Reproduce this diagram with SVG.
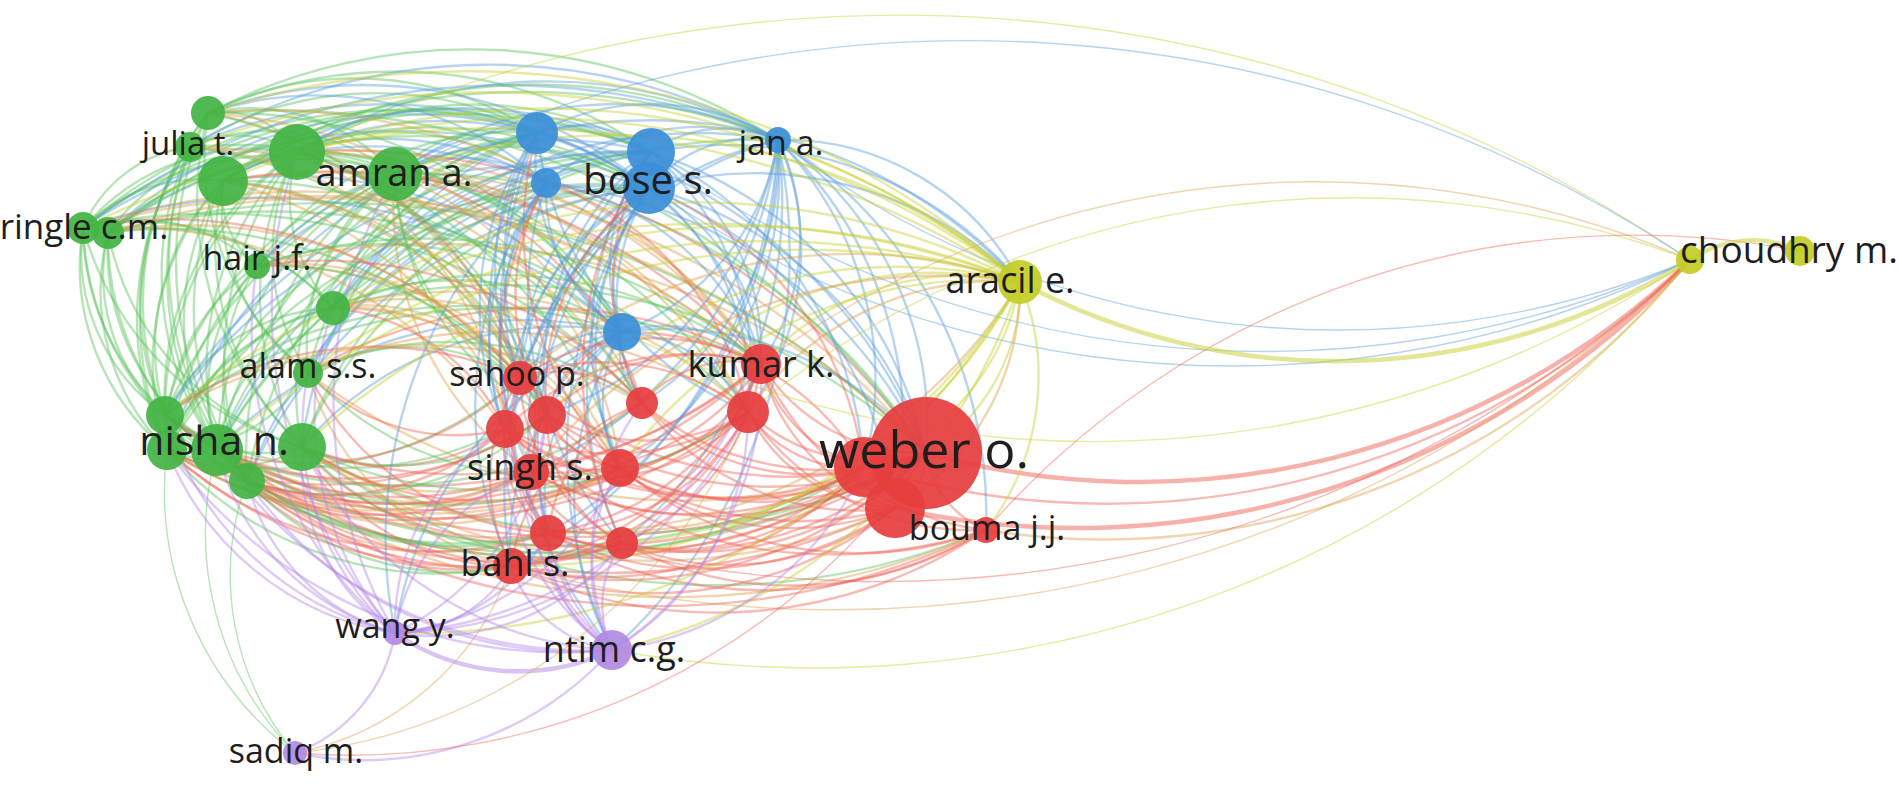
<svg xmlns="http://www.w3.org/2000/svg" width="1902" height="787" viewBox="0 0 1902 787">
<style>
#edges path{fill:none;stroke-width:2.4;stroke-opacity:.44;stroke-linecap:round}
#edges .g{stroke:#5cc25c}
#edges .b{stroke:#5a9edb}
#edges .r{stroke:#ef6355}
#edges .y{stroke:#c6d02c}
#edges .p{stroke:#b487e6}
#edges .o{stroke:#dca04e}
#edges .t{stroke-width:4.5;stroke-opacity:.5}
#edges .n{stroke-width:1.4}
.nd circle{fill-opacity:.93}
.G circle{fill:#44b444}
.B circle{fill:#3b8fd8}
.R circle{fill:#e63d3d}
.Y circle{fill:#c3cd26}
.P circle{fill:#b38ae2}
text{font-family:"Open Sans","Noto Sans","DejaVu Sans",sans-serif;fill:#1e1e1e;text-anchor:middle}
</style>
<rect width="1902" height="787" fill="#ffffff"/>
<g id="edges">
<path class="g" d="M208 113A305 305 0 0 0 165 415"/>
<path class="g" d="M208 113A340 340 0 0 0 167 450"/>
<path class="g" d="M208 113A337 337 0 0 0 217 450"/>
<path class="g" d="M208 113A370 370 0 0 0 247 481"/>
<path class="g" d="M208 113A347 347 0 0 0 302 447"/>
<path class="g" d="M208 113A279 279 0 0 0 308 373"/>
<path class="g" d="M190 147A268 268 0 0 0 165 415"/>
<path class="g" d="M190 147A304 304 0 0 0 167 450"/>
<path class="g" d="M190 147A304 304 0 0 0 217 450"/>
<path class="g" d="M190 147A339 339 0 0 0 247 481"/>
<path class="g" d="M83 228A134 134 0 0 1 190 147"/>
<path class="g" d="M223 181A237 237 0 0 0 165 415"/>
<path class="g" d="M223 181A272 272 0 0 0 167 450"/>
<path class="g" d="M223 181A269 269 0 0 0 217 450"/>
<path class="g" d="M223 181A277 277 0 0 0 302 447"/>
<path class="g" d="M223 181A301 301 0 0 0 247 481"/>
<path class="g" d="M223 181A208 208 0 0 0 308 373"/>
<path class="g" d="M223 181A92 92 0 0 0 257 266"/>
<path class="g" d="M297 152A294 294 0 0 0 165 415"/>
<path class="g" d="M297 152A325 325 0 0 0 167 450"/>
<path class="g" d="M297 152A308 308 0 0 0 217 450"/>
<path class="g" d="M297 152A295 295 0 0 0 302 447"/>
<path class="g" d="M297 152A333 333 0 0 0 247 481"/>
<path class="g" d="M297 152A221 221 0 0 0 308 373"/>
<path class="g" d="M297 152A160 160 0 0 0 333 308"/>
<path class="g" d="M395 174A333 333 0 0 0 165 415"/>
<path class="g" d="M395 174A362 362 0 0 0 167 450"/>
<path class="g" d="M395 174A318 318 0 0 0 217 450"/>
<path class="g" d="M395 174A285 285 0 0 0 302 447"/>
<path class="g" d="M395 174A340 340 0 0 0 247 481"/>
<path class="g" d="M395 174A218 218 0 0 0 308 373"/>
<path class="g" d="M83 228A197 197 0 0 0 165 415"/>
<path class="g" d="M83 228A257 257 0 0 0 217 450"/>
<path class="g" d="M83 228A297 297 0 0 0 247 481"/>
<path class="g" d="M83 228A318 318 0 0 0 302 447"/>
<path class="g" d="M83 228A237 237 0 0 0 167 450"/>
<path class="g" d="M108 233A189 189 0 0 0 165 415"/>
<path class="g" d="M108 233A225 225 0 0 0 167 450"/>
<path class="g" d="M108 233A240 240 0 0 0 217 450"/>
<path class="g" d="M108 233A284 284 0 0 0 302 447"/>
<path class="g" d="M108 233A286 286 0 0 0 247 481"/>
<path class="g" d="M257 266A205 205 0 0 0 167 450"/>
<path class="g" d="M257 266A187 187 0 0 0 217 450"/>
<path class="g" d="M257 266A215 215 0 0 0 247 481"/>
<path class="g" d="M333 308A234 234 0 0 0 167 450"/>
<path class="g" d="M333 308A183 183 0 0 0 217 450"/>
<path class="g" d="M167 450A161 161 0 0 0 308 373"/>
<path class="g" d="M83 228A317 317 0 0 1 395 174"/>
<path class="g" d="M83 228A227 227 0 0 1 297 152"/>
<path class="g" d="M83 228A165 165 0 0 1 223 181"/>
<path class="g" d="M108 233A293 293 0 0 1 395 174"/>
<path class="g" d="M108 233A198 198 0 0 1 297 152"/>
<path class="g" d="M190 147A206 206 0 0 1 395 174"/>
<path class="g" d="M208 113A192 192 0 0 1 395 174"/>
<path class="g" d="M223 181A172 172 0 0 1 395 174"/>
<path class="g" d="M83 228A262 262 0 0 1 333 308"/>
<path class="g" d="M108 233A237 237 0 0 1 333 308"/>
<path class="g" d="M83 228A178 178 0 0 1 257 266"/>
<path class="g" d="M165 415A141 141 0 0 0 302 447"/>
<path class="g" d="M167 450A135 135 0 0 0 302 447"/>
<path class="g" d="M165 415A199 199 0 0 1 333 308"/>
<path class="g" d="M167 450A224 224 0 0 1 333 308"/>
<path class="g" d="M208 113A90 90 0 0 1 297 152"/>
<path class="g" d="M190 147A110 110 0 0 1 297 152"/>
<path class="g" d="M208 113A330 330 0 0 1 537 133"/>
<path class="g" d="M208 113A445 445 0 0 1 651 152"/>
<path class="b" d="M208 113A447 447 0 0 1 649 188"/>
<path class="g" d="M190 147A347 347 0 0 1 537 133"/>
<path class="b" d="M190 147A461 461 0 0 1 649 188"/>
<path class="g" d="M223 181A317 317 0 0 1 537 133"/>
<path class="b" d="M223 181A430 430 0 0 1 651 152"/>
<path class="g" d="M223 181A426 426 0 0 1 649 188"/>
<path class="b" d="M297 152A241 241 0 0 1 537 133"/>
<path class="g" d="M297 152A354 354 0 0 1 651 152"/>
<path class="b" d="M297 152A354 354 0 0 1 649 188"/>
<path class="b" d="M297 152A481 481 0 0 1 778 140"/>
<path class="g" d="M395 174A148 148 0 0 1 537 133"/>
<path class="b" d="M395 174A257 257 0 0 1 651 152"/>
<path class="g" d="M395 174A255 255 0 0 1 649 188"/>
<path class="b" d="M395 174A384 384 0 0 1 778 140"/>
<path class="g" d="M83 228A467 467 0 0 1 537 133"/>
<path class="g" d="M83 228A572 572 0 0 1 651 152"/>
<path class="b" d="M83 228A568 568 0 0 1 649 188"/>
<path class="g" d="M108 233A548 548 0 0 1 651 152"/>
<path class="g" d="M208 113A570 570 0 0 1 778 140"/>
<path class="b" d="M190 147A588 588 0 0 1 778 140"/>
<path class="b" d="M165 415A535 535 0 0 1 649 188"/>
<path class="g" d="M217 450A431 431 0 0 1 537 133"/>
<path class="b" d="M217 450A516 516 0 0 1 651 152"/>
<path class="g" d="M302 447A425 425 0 0 1 649 188"/>
<path class="g" d="M167 450A557 557 0 0 1 651 152"/>
<path class="b" d="M257 266A400 400 0 0 1 649 188"/>
<path class="g" d="M333 308A264 264 0 0 1 537 133"/>
<path class="b" d="M308 373A412 412 0 0 1 651 152"/>
<path class="b" d="M247 481A497 497 0 0 1 649 188"/>
<path class="g" d="M257 266A371 371 0 0 1 622 332"/>
<path class="b" d="M217 450A422 422 0 0 1 622 332"/>
<path class="g" d="M395 174A284 284 0 0 1 622 332"/>
<path class="b" d="M223 181A323 323 0 0 1 546 183"/>
<path class="b" d="M108 233A440 440 0 0 1 546 183"/>
<path class="b" d="M108 233A441 441 0 0 1 537 133"/>
<path class="g" d="M108 233A543 543 0 0 1 649 188"/>
<path class="g" d="M165 415A475 475 0 0 1 537 133"/>
<path class="b" d="M165 415A553 553 0 0 1 651 152"/>
<path class="b" d="M167 450A497 497 0 0 1 537 133"/>
<path class="g" d="M167 450A551 551 0 0 1 649 188"/>
<path class="g" d="M217 450A506 506 0 0 1 649 188"/>
<path class="b" d="M302 447A386 386 0 0 1 537 133"/>
<path class="g" d="M302 447A463 463 0 0 1 651 152"/>
<path class="g" d="M247 481A458 458 0 0 1 537 133"/>
<path class="b" d="M247 481A519 519 0 0 1 651 152"/>
<path class="g" d="M257 266A312 312 0 0 1 537 133"/>
<path class="b" d="M257 266A406 406 0 0 1 651 152"/>
<path class="b" d="M333 308A355 355 0 0 1 651 152"/>
<path class="g" d="M333 308A343 343 0 0 1 649 188"/>
<path class="g" d="M308 373A336 336 0 0 1 537 133"/>
<path class="b" d="M308 373A385 385 0 0 1 649 188"/>
<path class="b" d="M83 228A700 700 0 0 1 778 140"/>
<path class="g" d="M108 233A688 688 0 0 1 778 140"/>
<path class="g" d="M223 181A556 556 0 0 1 778 140"/>
<path class="b" d="M333 308A468 468 0 0 1 778 140"/>
<path class="g" d="M217 450A628 628 0 0 1 778 140"/>
<path class="b" d="M208 113A345 345 0 0 1 546 183"/>
<path class="g" d="M297 152A251 251 0 0 1 546 183"/>
<path class="b" d="M395 174A151 151 0 0 1 546 183"/>
<path class="g" d="M217 450A420 420 0 0 1 546 183"/>
<path class="g" d="M208 113A468 468 0 0 1 622 332"/>
<path class="b" d="M223 181A433 433 0 0 1 622 332"/>
<path class="g" d="M297 152A372 372 0 0 1 622 332"/>
<path class="b" d="M83 228A548 548 0 0 1 622 332"/>
<path class="g" d="M165 415A473 473 0 0 1 622 332"/>
<path class="b" d="M302 447A341 341 0 0 1 622 332"/>
<path class="g" d="M333 308A290 290 0 0 1 622 332"/>
<path class="g" d="M395 174A239 239 0 0 0 520 378"/>
<path class="o" d="M395 174A412 412 0 0 1 761 364"/>
<path class="g" d="M395 174A600 600 0 0 1 926 453"/>
<path class="r" d="M297 152A710 710 0 0 1 926 453"/>
<path class="o" d="M223 181A760 760 0 0 1 926 453"/>
<path class="g" d="M208 113A793 793 0 0 1 926 453"/>
<path class="o" d="M83 228A855 855 0 0 1 926 453"/>
<path class="g" d="M108 233A834 834 0 0 1 926 453"/>
<path class="r" d="M165 415A762 762 0 0 0 926 453"/>
<path class="g" d="M167 450A759 759 0 0 0 926 453"/>
<path class="r" d="M217 450A709 709 0 0 0 926 453"/>
<path class="g" d="M302 447A624 624 0 0 0 926 453"/>
<path class="r" d="M247 481A681 681 0 0 0 926 453"/>
<path class="o" d="M308 373A625 625 0 0 0 926 453"/>
<path class="g" d="M333 308A622 622 0 0 1 926 453"/>
<path class="o" d="M257 266A691 691 0 0 1 926 453"/>
<path class="r" d="M217 450A555 555 0 0 0 761 364"/>
<path class="g" d="M165 415A599 599 0 0 1 761 364"/>
<path class="r" d="M167 450A582 582 0 0 0 748 412"/>
<path class="o" d="M217 450A532 532 0 0 0 748 412"/>
<path class="g" d="M302 447A449 449 0 0 0 748 412"/>
<path class="r" d="M247 481A506 506 0 0 0 748 412"/>
<path class="r" d="M308 373A453 453 0 0 1 761 364"/>
<path class="o" d="M333 308A428 428 0 0 1 748 412"/>
<path class="r" d="M217 450A332 332 0 0 0 547 415"/>
<path class="r" d="M302 447A204 204 0 0 0 505 429"/>
<path class="g" d="M165 415A340 340 0 0 0 505 429"/>
<path class="r" d="M167 450A453 453 0 0 0 620 468"/>
<path class="r" d="M217 450A315 315 0 0 0 531 472"/>
<path class="o" d="M247 481A305 305 0 0 0 548 533"/>
<path class="r" d="M302 447A241 241 0 0 0 511 566"/>
<path class="r" d="M217 450A416 416 0 0 0 622 543"/>
<path class="g" d="M167 450A361 361 0 0 0 511 566"/>
<path class="r" d="M247 481A380 380 0 0 0 622 543"/>
<path class="g" d="M308 373A212 212 0 0 1 520 378"/>
<path class="o" d="M333 308A318 318 0 0 1 642 403"/>
<path class="o" d="M333 308A237 237 0 0 1 547 415"/>
<path class="r" d="M395 174A337 337 0 0 1 642 403"/>
<path class="o" d="M395 174A422 422 0 0 1 748 412"/>
<path class="o" d="M297 152A520 520 0 0 1 761 364"/>
<path class="r" d="M223 181A582 582 0 0 1 761 364"/>
<path class="o" d="M208 113A606 606 0 0 1 761 364"/>
<path class="o" d="M83 228A690 690 0 0 1 761 364"/>
<path class="g" d="M108 233A658 658 0 0 1 748 412"/>
<path class="o" d="M257 266A403 403 0 0 1 620 468"/>
<path class="g" d="M165 415A397 397 0 0 0 548 533"/>
<path class="r" d="M167 450A392 392 0 0 0 548 533"/>
<path class="r" d="M217 450A676 676 0 0 0 895 508"/>
<path class="o" d="M302 447A562 562 0 0 0 864 467"/>
<path class="r" d="M247 481A741 741 0 0 0 986 530"/>
<path class="g" d="M302 447A689 689 0 0 0 986 530"/>
<path class="g" d="M190 147A446 446 0 0 1 547 415"/>
<path class="o" d="M223 181A424 424 0 0 1 531 472"/>
<path class="g" d="M297 152A452 452 0 0 1 620 468"/>
<path class="r" d="M83 228A462 462 0 0 1 520 378"/>
<path class="g" d="M108 233A475 475 0 0 1 547 415"/>
<path class="o" d="M208 113A409 409 0 0 1 520 378"/>
<path class="g" d="M208 113A454 454 0 0 1 547 415"/>
<path class="o" d="M208 113A522 522 0 0 1 642 403"/>
<path class="o" d="M190 147A398 398 0 0 1 520 378"/>
<path class="o" d="M190 147A536 536 0 0 1 642 403"/>
<path class="g" d="M190 147A618 618 0 0 1 748 412"/>
<path class="g" d="M223 181A355 355 0 0 1 520 378"/>
<path class="o" d="M223 181A398 398 0 0 1 547 415"/>
<path class="g" d="M223 181A478 478 0 0 1 642 403"/>
<path class="o" d="M223 181A490 490 0 0 1 620 468"/>
<path class="r" d="M297 152A319 319 0 0 1 520 378"/>
<path class="g" d="M297 152A365 365 0 0 1 547 415"/>
<path class="o" d="M297 152A510 510 0 0 1 748 412"/>
<path class="o" d="M297 152A346 346 0 0 1 505 429"/>
<path class="g" d="M395 174A281 281 0 0 0 547 415"/>
<path class="o" d="M395 174A365 365 0 0 1 620 468"/>
<path class="o" d="M395 174A328 328 0 0 0 531 472"/>
<path class="g" d="M83 228A580 580 0 0 1 642 403"/>
<path class="o" d="M83 228A469 469 0 0 1 505 429"/>
<path class="o" d="M108 233A666 666 0 0 1 761 364"/>
<path class="o" d="M108 233A433 433 0 0 1 520 378"/>
<path class="o" d="M257 266A284 284 0 0 1 520 378"/>
<path class="g" d="M257 266A517 517 0 0 1 761 364"/>
<path class="r" d="M257 266A427 427 0 0 1 642 403"/>
<path class="g" d="M257 266A323 323 0 0 1 547 415"/>
<path class="o" d="M333 308A200 200 0 0 1 520 378"/>
<path class="g" d="M333 308A430 430 0 0 1 761 364"/>
<path class="r" d="M333 308A213 213 0 0 1 505 429"/>
<path class="o" d="M333 308A335 335 0 0 1 620 468"/>
<path class="g" d="M308 373A336 336 0 0 1 642 403"/>
<path class="o" d="M308 373A441 441 0 0 1 748 412"/>
<path class="r" d="M308 373A205 205 0 0 0 505 429"/>
<path class="g" d="M308 373A326 326 0 0 0 620 468"/>
<path class="r" d="M308 373A288 288 0 0 0 548 533"/>
<path class="o" d="M308 373A280 280 0 0 0 511 566"/>
<path class="r" d="M165 415A356 356 0 0 1 520 378"/>
<path class="o" d="M165 415A478 478 0 0 1 642 403"/>
<path class="g" d="M165 415A459 459 0 0 0 620 468"/>
<path class="r" d="M165 415A371 371 0 0 0 531 472"/>
<path class="g" d="M167 450A361 361 0 0 0 520 378"/>
<path class="r" d="M167 450A385 385 0 0 0 547 415"/>
<path class="o" d="M167 450A365 365 0 0 0 531 472"/>
<path class="r" d="M167 450A464 464 0 0 0 622 543"/>
<path class="r" d="M217 450A311 311 0 0 0 520 378"/>
<path class="g" d="M217 450A429 429 0 0 0 642 403"/>
<path class="o" d="M217 450A403 403 0 0 0 620 468"/>
<path class="g" d="M217 450A342 342 0 0 0 548 533"/>
<path class="r" d="M217 450A316 316 0 0 0 511 566"/>
<path class="g" d="M217 450A647 647 0 0 0 864 467"/>
<path class="o" d="M217 450A773 773 0 0 0 986 530"/>
<path class="g" d="M302 447A250 250 0 0 0 547 415"/>
<path class="r" d="M302 447A319 319 0 0 0 620 468"/>
<path class="o" d="M302 447A230 230 0 0 0 531 472"/>
<path class="r" d="M302 447A260 260 0 0 0 548 533"/>
<path class="g" d="M302 447A332 332 0 0 0 622 543"/>
<path class="r" d="M302 447A467 467 0 0 0 761 364"/>
<path class="o" d="M302 447A592 592 0 0 0 895 508"/>
<path class="g" d="M247 481A309 309 0 0 0 547 415"/>
<path class="r" d="M247 481A263 263 0 0 0 505 429"/>
<path class="o" d="M247 481A373 373 0 0 0 620 468"/>
<path class="r" d="M247 481A284 284 0 0 0 531 472"/>
<path class="g" d="M247 481A280 280 0 0 0 511 566"/>
<path class="r" d="M247 481A532 532 0 0 0 761 364"/>
<path class="g" d="M247 481A617 617 0 0 0 864 467"/>
<path class="b" d="M537 133A115 115 0 0 1 651 152"/>
<path class="b" d="M537 133A241 241 0 0 1 778 140"/>
<path class="b" d="M651 152A128 128 0 0 1 778 140"/>
<path class="b" d="M649 188A137 137 0 0 1 778 140"/>
<path class="b" d="M546 183A240 240 0 0 1 778 140"/>
<path class="b" d="M537 133A216 216 0 0 0 622 332"/>
<path class="b" d="M546 183A169 169 0 0 0 622 332"/>
<path class="b" d="M651 152A180 180 0 0 0 622 332"/>
<path class="b" d="M649 188A145 145 0 0 0 622 332"/>
<path class="b" d="M778 140A247 247 0 0 1 622 332"/>
<path class="b" d="M778 140A225 225 0 0 1 761 364"/>
<path class="b" d="M778 140A274 274 0 0 1 748 412"/>
<path class="b" d="M778 140A346 346 0 0 1 926 453"/>
<path class="b" d="M778 140A289 289 0 0 1 642 403"/>
<path class="b" d="M778 140A356 356 0 0 1 620 468"/>
<path class="b" d="M520 378A351 351 0 0 1 778 140"/>
<path class="b" d="M505 429A385 385 0 0 1 778 140"/>
<path class="b" d="M778 140A455 455 0 0 1 548 533"/>
<path class="b" d="M778 140A265 265 0 0 1 1020 282"/>
<path class="b" d="M778 140A536 536 0 0 1 612 650"/>
<path class="b" d="M649 188A395 395 0 0 1 926 453"/>
<path class="b" d="M649 188A208 208 0 0 1 761 364"/>
<path class="b" d="M649 188A230 230 0 0 0 520 378"/>
<path class="b" d="M649 188A281 281 0 0 0 505 429"/>
<path class="b" d="M649 188A307 307 0 0 0 531 472"/>
<path class="b" d="M649 188A397 397 0 0 0 511 566"/>
<path class="b" d="M649 188A356 356 0 0 0 622 543"/>
<path class="b" d="M649 188A462 462 0 0 0 612 650"/>
<path class="b" d="M651 152A407 407 0 0 1 926 453"/>
<path class="b" d="M651 152A285 285 0 0 1 748 412"/>
<path class="b" d="M651 152A318 318 0 0 0 620 468"/>
<path class="b" d="M537 133A512 512 0 0 1 926 453"/>
<path class="b" d="M537 133A347 347 0 0 0 748 412"/>
<path class="b" d="M537 133A400 400 0 0 0 548 533"/>
<path class="b" d="M546 183A273 273 0 0 1 761 364"/>
<path class="b" d="M546 183A370 370 0 0 0 622 543"/>
<path class="b" d="M546 183A475 475 0 0 0 395 633"/>
<path class="b" d="M537 133A524 524 0 0 0 612 650"/>
<path class="b" d="M649 188A381 381 0 0 1 1020 282"/>
<path class="b" d="M651 152A388 388 0 0 1 1020 282"/>
<path class="b" d="M537 133A505 505 0 0 1 1020 282"/>
<path class="b n" d="M651 152A1040 1040 0 0 0 1690 260"/>
<path class="b n" d="M649 188A1043 1043 0 0 0 1690 260"/>
<path class="b n" d="M778 140A920 920 0 0 0 1690 260"/>
<path class="b" d="M622 332A152 152 0 0 0 505 429"/>
<path class="b" d="M622 332A116 116 0 0 0 547 415"/>
<path class="b" d="M537 133A246 246 0 0 0 520 378"/>
<path class="b" d="M537 133A282 282 0 0 0 547 415"/>
<path class="b" d="M537 133A298 298 0 0 0 505 429"/>
<path class="r" d="M537 133A347 347 0 0 0 620 468"/>
<path class="b" d="M537 133A314 314 0 0 1 761 364"/>
<path class="b" d="M546 183A195 195 0 0 0 520 378"/>
<path class="r" d="M546 183A232 232 0 0 0 547 415"/>
<path class="b" d="M546 183A250 250 0 0 0 505 429"/>
<path class="b" d="M546 183A289 289 0 0 0 531 472"/>
<path class="r" d="M546 183A350 350 0 0 0 548 533"/>
<path class="b" d="M546 183A383 383 0 0 0 511 566"/>
<path class="b" d="M546 183A470 470 0 0 1 926 453"/>
<path class="r" d="M546 183A302 302 0 0 1 748 412"/>
<path class="b" d="M651 152A264 264 0 0 0 520 378"/>
<path class="b" d="M651 152A235 235 0 0 1 761 364"/>
<path class="r" d="M651 152A251 251 0 0 0 642 403"/>
<path class="b" d="M651 152A280 280 0 0 0 547 415"/>
<path class="b" d="M651 152A395 395 0 0 0 548 533"/>
<path class="r" d="M651 152A391 391 0 0 0 622 543"/>
<path class="b" d="M651 152A375 375 0 0 1 864 467"/>
<path class="b" d="M649 188A215 215 0 0 0 642 403"/>
<path class="b" d="M649 188A252 252 0 0 1 748 412"/>
<path class="r" d="M649 188A249 249 0 0 0 547 415"/>
<path class="b" d="M649 188A281 281 0 0 0 620 468"/>
<path class="b" d="M649 188A359 359 0 0 0 548 533"/>
<path class="r" d="M649 188A352 352 0 0 1 864 467"/>
<path class="b" d="M649 188A394 394 0 0 1 895 508"/>
<path class="b" d="M778 140A355 355 0 0 1 547 415"/>
<path class="b" d="M778 140A420 420 0 0 1 531 472"/>
<path class="b" d="M778 140A446 446 0 0 1 622 543"/>
<path class="b" d="M778 140A511 511 0 0 1 511 566"/>
<path class="b" d="M778 140A343 343 0 0 1 864 467"/>
<path class="b" d="M778 140A393 393 0 0 1 895 508"/>
<path class="b" d="M778 140A439 439 0 0 1 986 530"/>
<path class="b" d="M622 332A116 116 0 0 0 520 378"/>
<path class="b" d="M622 332A143 143 0 0 1 761 364"/>
<path class="b" d="M622 332A73 73 0 0 0 642 403"/>
<path class="b" d="M622 332A152 152 0 0 1 748 412"/>
<path class="b" d="M622 332A136 136 0 0 0 620 468"/>
<path class="r" d="M622 332A163 163 0 0 0 531 472"/>
<path class="b" d="M622 332A211 211 0 0 0 548 533"/>
<path class="b" d="M622 332A257 257 0 0 0 511 566"/>
<path class="b" d="M622 332A331 331 0 0 1 926 453"/>
<path class="r" d="M622 332A276 276 0 0 1 864 467"/>
<path class="b" d="M622 332A390 390 0 0 0 395 633"/>
<path class="b" d="M622 332A318 318 0 0 0 612 650"/>
<path class="r" d="M761 364A188 188 0 0 0 926 453"/>
<path class="r" d="M748 412A182 182 0 0 0 926 453"/>
<path class="r" d="M642 403A290 290 0 0 0 926 453"/>
<path class="r" d="M520 378A415 415 0 0 0 926 453"/>
<path class="r" d="M547 415A381 381 0 0 0 926 453"/>
<path class="r" d="M505 429A422 422 0 0 0 926 453"/>
<path class="r" d="M620 468A306 306 0 0 0 926 453"/>
<path class="r" d="M531 472A395 395 0 0 0 926 453"/>
<path class="r" d="M548 533A387 387 0 0 0 926 453"/>
<path class="r" d="M622 543A317 317 0 0 0 926 453"/>
<path class="r" d="M511 566A431 431 0 0 0 926 453"/>
<path class="r" d="M926 453A98 98 0 0 0 986 530"/>
<path class="r" d="M864 467A64 64 0 0 0 926 453"/>
<path class="r" d="M895 508A62 62 0 0 0 926 453"/>
<path class="r" d="M520 378A241 241 0 0 1 761 364"/>
<path class="r" d="M520 378A233 233 0 0 1 748 412"/>
<path class="r" d="M520 378A124 124 0 0 1 642 403"/>
<path class="r" d="M520 378A135 135 0 0 0 620 468"/>
<path class="r" d="M520 378A158 158 0 0 0 548 533"/>
<path class="r" d="M520 378A188 188 0 0 0 511 566"/>
<path class="r" d="M520 378A197 197 0 0 0 622 543"/>
<path class="r" d="M642 403A124 124 0 0 1 761 364"/>
<path class="r" d="M547 415A218 218 0 0 1 761 364"/>
<path class="r" d="M505 429A265 265 0 0 1 761 364"/>
<path class="r" d="M620 468A171 171 0 0 0 761 364"/>
<path class="r" d="M531 472A253 253 0 0 0 761 364"/>
<path class="r" d="M548 533A272 272 0 0 0 761 364"/>
<path class="r" d="M622 543A226 226 0 0 0 761 364"/>
<path class="r" d="M511 566A318 318 0 0 0 761 364"/>
<path class="r" d="M761 364A146 146 0 0 0 864 467"/>
<path class="r" d="M761 364A200 200 0 0 0 895 508"/>
<path class="r" d="M761 364A280 280 0 0 0 986 530"/>
<path class="r" d="M547 415A201 201 0 0 0 748 412"/>
<path class="r" d="M505 429A243 243 0 0 0 748 412"/>
<path class="r" d="M531 472A224 224 0 0 0 748 412"/>
<path class="r" d="M548 533A233 233 0 0 0 748 412"/>
<path class="r" d="M511 566A296 296 0 0 0 748 412"/>
<path class="r" d="M748 412A126 126 0 0 0 864 467"/>
<path class="r" d="M748 412A171 171 0 0 0 895 508"/>
<path class="r" d="M748 412A273 273 0 0 0 986 530"/>
<path class="r" d="M642 403A166 166 0 0 0 548 533"/>
<path class="r" d="M642 403A207 207 0 0 0 511 566"/>
<path class="r" d="M642 403A229 229 0 0 0 864 467"/>
<path class="r" d="M642 403A272 272 0 0 0 895 508"/>
<path class="r" d="M620 468A244 244 0 0 0 864 467"/>
<path class="r" d="M620 468A276 276 0 0 0 895 508"/>
<path class="r" d="M531 472A333 333 0 0 0 864 467"/>
<path class="r" d="M548 533A324 324 0 0 0 864 467"/>
<path class="r" d="M548 533A343 343 0 0 0 895 508"/>
<path class="r" d="M622 543A251 251 0 0 0 864 467"/>
<path class="r" d="M622 543A272 272 0 0 0 895 508"/>
<path class="r" d="M511 566A369 369 0 0 0 864 467"/>
<path class="r" d="M511 566A386 386 0 0 0 895 508"/>
<path class="r" d="M511 566A479 479 0 0 0 986 530"/>
<path class="r" d="M548 533A438 438 0 0 0 986 530"/>
<path class="r" d="M505 429A363 363 0 0 0 864 467"/>
<path class="r" d="M505 429A491 491 0 0 0 986 530"/>
<path class="r" d="M547 415A355 355 0 0 0 895 508"/>
<path class="r" d="M620 468A373 373 0 0 0 986 530"/>
<path class="r" d="M622 543A364 364 0 0 0 986 530"/>
<path class="r" d="M505 429A121 121 0 0 0 620 468"/>
<path class="r" d="M547 415A142 142 0 0 0 622 543"/>
<path class="r" d="M505 429A113 113 0 0 0 548 533"/>
<path class="r" d="M531 472A114 114 0 0 0 622 543"/>
<path class="r" d="M547 415A91 91 0 0 0 620 468"/>
<path class="r t" d="M926 453A795 795 0 0 0 1690 260"/>
<path class="r t" d="M895 508A835 835 0 0 0 1690 260"/>
<path class="r" d="M864 467A820 820 0 0 0 1690 260"/>
<path class="o" d="M986 530A752 752 0 0 0 1690 260"/>
<path class="o n" d="M511 566A1220 1220 0 0 0 1690 260"/>
<path class="y n" d="M612 650A1145 1145 0 0 0 1690 260"/>
<path class="r n" d="M548 533A1175 1175 0 0 0 1690 260"/>
<path class="o n" d="M761 364A935 935 0 0 1 1690 260"/>
<path class="y n" d="M748 412A955 955 0 0 1 1690 260"/>
<path class="r n" d="M986 530A862 862 0 0 1 1800 251"/>
<path class="y n" d="M622 332A1070 1070 0 0 0 1690 260"/>
<path class="y t" d="M1690 260A110 110 0 0 1 1800 251"/>
<path class="y n" d="M297 152A1397 1397 0 0 1 1690 260"/>
<path class="b n" d="M395 174A1298 1298 0 0 1 1690 260"/>
<path class="y t" d="M1020 282A670 670 0 0 0 1690 260"/>
<path class="y" d="M1020 282A195 195 0 0 1 926 453"/>
<path class="y" d="M1020 282A250 250 0 0 1 986 530"/>
<path class="y" d="M1020 282A242 242 0 0 1 864 467"/>
<path class="o" d="M1020 282A259 259 0 0 1 895 508"/>
<path class="y" d="M761 364A272 272 0 0 1 1020 282"/>
<path class="o" d="M748 412A302 302 0 0 1 1020 282"/>
<path class="y" d="M642 403A397 397 0 0 1 1020 282"/>
<path class="o" d="M520 378A509 509 0 0 1 1020 282"/>
<path class="y" d="M547 415A491 491 0 0 1 1020 282"/>
<path class="y" d="M620 468A439 439 0 0 1 1020 282"/>
<path class="o" d="M548 533A535 535 0 0 0 1020 282"/>
<path class="y" d="M511 566A583 583 0 0 0 1020 282"/>
<path class="y" d="M395 174A634 634 0 0 1 1020 282"/>
<path class="y" d="M297 152A735 735 0 0 1 1020 282"/>
<path class="y" d="M223 181A803 803 0 0 1 1020 282"/>
<path class="y" d="M190 147A840 840 0 0 1 1020 282"/>
<path class="y" d="M217 450A820 820 0 0 1 1020 282"/>
<path class="y" d="M302 447A737 737 0 0 1 1020 282"/>
<path class="y" d="M165 415A865 865 0 0 1 1020 282"/>
<path class="y" d="M83 228A939 939 0 0 1 1020 282"/>
<path class="y" d="M208 113A829 829 0 0 1 1020 282"/>
<path class="y" d="M612 650A549 549 0 0 0 1020 282"/>
<path class="y" d="M395 633A702 702 0 0 0 1020 282"/>
<path class="y" d="M333 308A687 687 0 0 1 1020 282"/>
<path class="y" d="M308 373A718 718 0 0 1 1020 282"/>
<path class="o" d="M531 472A520 520 0 0 1 1020 282"/>
<path class="y" d="M622 543A490 490 0 0 0 1020 282"/>
<path class="p" d="M165 415A317 317 0 0 0 395 633"/>
<path class="p" d="M167 450A294 294 0 0 0 395 633"/>
<path class="p" d="M217 450A255 255 0 0 0 395 633"/>
<path class="p" d="M247 481A212 212 0 0 0 395 633"/>
<path class="p" d="M302 447A207 207 0 0 0 395 633"/>
<path class="p" d="M308 373A274 274 0 0 0 395 633"/>
<path class="p" d="M333 308A331 331 0 0 0 395 633"/>
<path class="p" d="M257 266A392 392 0 0 0 395 633"/>
<path class="p" d="M395 174A459 459 0 0 0 395 633"/>
<path class="p" d="M297 152A491 491 0 0 0 395 633"/>
<path class="p" d="M505 429A232 232 0 0 0 395 633"/>
<path class="p" d="M531 472A209 209 0 0 0 395 633"/>
<path class="p" d="M395 633A134 134 0 0 0 511 566"/>
<path class="p" d="M395 633A189 189 0 0 0 548 533"/>
<path class="p" d="M395 633A240 240 0 0 0 622 543"/>
<path class="p" d="M395 633A282 282 0 0 0 620 468"/>
<path class="p" d="M395 633A268 268 0 0 0 547 415"/>
<path class="p t" d="M395 633A217 217 0 0 0 612 650"/>
<path class="p" d="M395 633A156 156 0 0 1 295 753"/>
<path class="p" d="M395 633A420 420 0 0 0 761 364"/>
<path class="p" d="M395 633A400 400 0 0 0 748 412"/>
<path class="p" d="M511 566A127 127 0 0 0 612 650"/>
<path class="p" d="M548 533A133 133 0 0 0 612 650"/>
<path class="p" d="M622 543A108 108 0 0 0 612 650"/>
<path class="p" d="M620 468A182 182 0 0 0 612 650"/>
<path class="p" d="M531 472A195 195 0 0 0 612 650"/>
<path class="p" d="M505 429A245 245 0 0 0 612 650"/>
<path class="p" d="M547 415A244 244 0 0 0 612 650"/>
<path class="p" d="M520 378A287 287 0 0 0 612 650"/>
<path class="p" d="M642 403A249 249 0 0 0 612 650"/>
<path class="p" d="M748 412A274 274 0 0 1 612 650"/>
<path class="p" d="M761 364A322 322 0 0 1 612 650"/>
<path class="p" d="M612 650A318 318 0 0 0 864 467"/>
<path class="p" d="M217 450A442 442 0 0 0 612 650"/>
<path class="p" d="M302 447A370 370 0 0 0 612 650"/>
<path class="p" d="M247 481A402 402 0 0 0 612 650"/>
<path class="p" d="M167 450A488 488 0 0 0 612 650"/>
<path class="p" d="M295 753A335 335 0 0 0 612 650"/>
<path class="g n" d="M217 450A313 313 0 0 0 295 753"/>
<path class="g n" d="M247 481A276 276 0 0 0 295 753"/>
<path class="g n" d="M167 450A329 329 0 0 0 295 753"/>
<path class="o n" d="M295 753A286 286 0 0 0 511 566"/>
<path class="r n" d="M295 753A700 700 0 0 0 926 453"/>
<path class="o n" d="M295 753A550 550 0 0 0 748 412"/>
</g>
<g id="nodes">
<g id="n-g1" class="nd G"><circle cx="208" cy="113" r="17"/></g>
<g id="n-g3" class="nd G"><circle cx="223" cy="181" r="25"/></g>
<g id="n-g4" class="nd G"><circle cx="297" cy="152" r="28"/></g>
<g id="n-g7" class="nd G"><circle cx="108" cy="233" r="16"/></g>
<g id="n-g9" class="nd G"><circle cx="333" cy="308" r="17"/></g>
<g id="n-g11" class="nd G"><circle cx="165" cy="415" r="19"/></g>
<g id="n-g12" class="nd G"><circle cx="167" cy="450" r="20"/></g>
<g id="n-g14" class="nd G"><circle cx="302" cy="447" r="24"/></g>
<g id="n-g15" class="nd G"><circle cx="247" cy="481" r="18"/></g>
<g id="n-b1" class="nd B"><circle cx="537" cy="133" r="21"/></g>
<g id="n-b2" class="nd B"><circle cx="546" cy="183" r="15"/></g>
<g id="n-b3" class="nd B"><circle cx="651" cy="152" r="24"/></g>
<g id="n-b6" class="nd B"><circle cx="622" cy="332" r="19"/></g>
<g id="n-r3" class="nd R"><circle cx="642" cy="403" r="16"/></g>
<g id="n-r4" class="nd R"><circle cx="748" cy="412" r="21"/></g>
<g id="n-r5" class="nd R"><circle cx="547" cy="415" r="19"/></g>
<g id="n-r6" class="nd R"><circle cx="505" cy="429" r="19"/></g>
<g id="n-r7" class="nd R"><circle cx="620" cy="468" r="19"/></g>
<g id="n-r9" class="nd R"><circle cx="548" cy="533" r="18"/></g>
<g id="n-r10" class="nd R"><circle cx="622" cy="543" r="16"/></g>
<g id="n-r13" class="nd R"><circle cx="864" cy="467" r="30"/></g>
<g id="n-r14" class="nd R"><circle cx="895" cy="508" r="30"/></g>
<g id="n-y2" class="nd Y"><circle cx="1690" cy="260" r="14"/></g>
<g id="n-julia" class="nd G"><circle cx="190" cy="147" r="15"/><text x="188" y="155" font-size="33">julia t.</text></g>
<g id="n-amran" class="nd G"><circle cx="395" cy="174" r="27"/><text x="394" y="186" font-size="38">amran a.</text></g>
<g id="n-ringle" class="nd G"><circle cx="83" cy="228" r="16"/><text x="84" y="239" font-size="35">ringle c.m.</text></g>
<g id="n-hair" class="nd G"><circle cx="257" cy="266" r="13"/><text x="257" y="270" font-size="34">hair j.f.</text></g>
<g id="n-alam" class="nd G"><circle cx="308" cy="373" r="15"/><text x="308" y="378" font-size="34">alam s.s.</text></g>
<g id="n-nisha" class="nd G"><circle cx="217" cy="450" r="26"/><text x="214" y="455" font-size="41">nisha n.</text></g>
<g id="n-bose" class="nd B"><circle cx="649" cy="188" r="26"/><text x="648" y="194" font-size="40">bose s.</text></g>
<g id="n-jan" class="nd B"><circle cx="778" cy="140" r="13"/><text x="781" y="155" font-size="34">jan a.</text></g>
<g id="n-sahoo" class="nd R"><circle cx="520" cy="378" r="17"/><text x="517" y="386" font-size="34">sahoo p.</text></g>
<g id="n-kumar" class="nd R"><circle cx="761" cy="364" r="20"/><text x="761" y="377" font-size="36">kumar k.</text></g>
<g id="n-singh" class="nd R"><circle cx="531" cy="472" r="18"/><text x="530" y="480" font-size="36">singh s.</text></g>
<g id="n-bahl" class="nd R"><circle cx="511" cy="566" r="18"/><text x="515" y="576" font-size="36">bahl s.</text></g>
<g id="n-bouma" class="nd R"><circle cx="986" cy="530" r="13"/><text x="987" y="540" font-size="34">bouma j.j.</text></g>
<g id="n-weber" class="nd R"><circle cx="926" cy="453" r="56"/><text x="924" y="468" font-size="52">weber o.</text></g>
<g id="n-aracil" class="nd Y"><circle cx="1020" cy="282" r="22"/><text x="1010" y="293" font-size="36">aracil e.</text></g>
<g id="n-choudhry" class="nd Y"><circle cx="1800" cy="251" r="15"/><text x="1789" y="263" font-size="37">choudhry m.</text></g>
<g id="n-wang" class="nd P"><circle cx="395" cy="633" r="12"/><text x="395" y="638" font-size="34">wang y.</text></g>
<g id="n-ntim" class="nd P"><circle cx="612" cy="650" r="20"/><text x="614" y="662" font-size="36">ntim c.g.</text></g>
<g id="n-sadiq" class="nd P"><circle cx="295" cy="753" r="12"/><text x="296" y="763" font-size="34">sadiq m.</text></g>
</g>
</svg>
